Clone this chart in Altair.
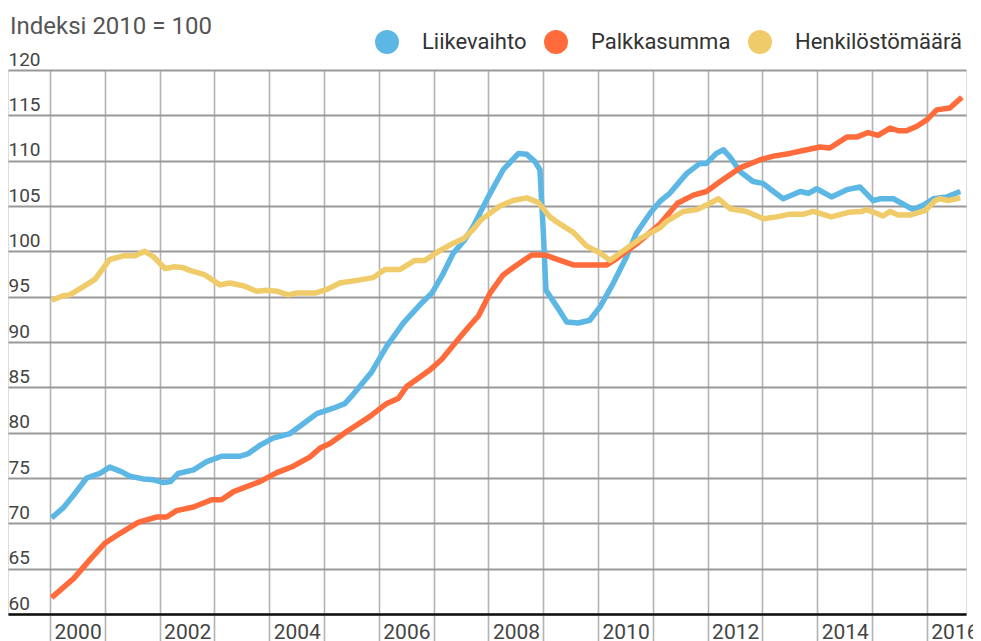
import altair as alt
import pandas as pd

series_names = ["Liikevaihto", "Palkkasumma", "Henkilöstömäärä"]
series_colors = ["#5DB7E5", "#FF6B3B", "#F0CB69"]

liikevaihto_t = [2000.03, 2000.24, 2000.43, 2000.67, 2000.91, 2001.09, 2001.30, 2001.46, 2001.70, 2001.89,
                 2002.07, 2002.20, 2002.34, 2002.62, 2002.86, 2003.13, 2003.47, 2003.62, 2003.83, 2004.07,
                 2004.38, 2004.56, 2004.87, 2005.17, 2005.38, 2005.53, 2005.87, 2006.14, 2006.45, 2006.75,
                 2006.97, 2007.18, 2007.36, 2007.56, 2007.72, 2007.97, 2008.27, 2008.55, 2008.70, 2008.85,
                 2008.94, 2009.00, 2009.05, 2009.25, 2009.43, 2009.64, 2009.85, 2010.04, 2010.28, 2010.52,
                 2010.70, 2010.95, 2011.13, 2011.31, 2011.62, 2011.86, 2011.98, 2012.16, 2012.29, 2012.41,
                 2012.59, 2012.83, 2013.01, 2013.20, 2013.38, 2013.69, 2013.84, 2013.99, 2014.26, 2014.54,
                 2014.78, 2015.02, 2015.15, 2015.39, 2015.57, 2015.75, 2015.94, 2016.12, 2016.36, 2016.61]
liikevaihto_v = [70.6, 71.7, 73.1, 75.0, 75.5, 76.2, 75.7, 75.2, 74.9, 74.8,
                 74.5, 74.6, 75.5, 75.9, 76.8, 77.4, 77.4, 77.7, 78.6, 79.4,
                 79.9, 80.7, 82.1, 82.7, 83.2, 84.2, 86.7, 89.5, 92.1, 94.1,
                 95.4, 97.6, 99.8, 101.2, 102.7, 105.7, 109.0, 110.8, 110.7, 109.9,
                 109.0, 102.4, 95.7, 93.9, 92.2, 92.1, 92.4, 93.9, 96.5, 99.4,
                 102.0, 104.2, 105.5, 106.4, 108.6, 109.7, 109.7, 110.8, 111.2, 110.4,
                 108.8, 107.7, 107.5, 106.6, 105.8, 106.6, 106.4, 106.9, 106.0, 106.8,
                 107.1, 105.6, 105.8, 105.8, 105.2, 104.6, 105.1, 105.8, 106.0, 106.6]

palkkasumma_t = [2000.03, 2000.43, 2000.73, 2001.00, 2001.28, 2001.61, 2001.95, 2002.13, 2002.31, 2002.62,
                 2002.95, 2003.13, 2003.35, 2003.83, 2004.14, 2004.44, 2004.74, 2004.93, 2005.11, 2005.41,
                 2005.84, 2006.14, 2006.36, 2006.51, 2006.93, 2007.15, 2007.45, 2007.63, 2007.82, 2008.03,
                 2008.27, 2008.52, 2008.79, 2009.03, 2009.31, 2009.55, 2010.16, 2010.34, 2010.70, 2011.13,
                 2011.45, 2011.74, 2011.98, 2012.23, 2012.59, 2012.96, 2013.20, 2013.50, 2013.81, 2014.05,
                 2014.23, 2014.54, 2014.72, 2014.93, 2015.11, 2015.33, 2015.48, 2015.63, 2015.82, 2016.00,
                 2016.18, 2016.42, 2016.64]
palkkasumma_v = [61.8, 63.9, 66.0, 67.8, 68.9, 70.1, 70.7, 70.7, 71.4, 71.8,
                 72.6, 72.6, 73.5, 74.6, 75.6, 76.3, 77.3, 78.3, 78.8, 80.1,
                 81.8, 83.2, 83.8, 85.1, 86.9, 88.1, 90.3, 91.6, 92.9, 95.4,
                 97.4, 98.5, 99.6, 99.6, 99.0, 98.5, 98.5, 99.2, 100.8, 103.0,
                 105.3, 106.2, 106.6, 107.7, 109.2, 110.1, 110.5, 110.8, 111.2, 111.5,
                 111.4, 112.6, 112.6, 113.1, 112.8, 113.6, 113.3, 113.3, 113.8, 114.5,
                 115.6, 115.8, 117.0]

henkilosto_t = [2000.03, 2000.24, 2000.36, 2000.61, 2000.82, 2001.09, 2001.34, 2001.55, 2001.73, 2001.89,
                2002.10, 2002.28, 2002.43, 2002.55, 2002.83, 2003.10, 2003.28, 2003.53, 2003.77, 2003.95,
                2004.14, 2004.35, 2004.50, 2004.84, 2005.05, 2005.29, 2005.60, 2005.90, 2006.11, 2006.39,
                2006.66, 2006.84, 2007.12, 2007.36, 2007.55, 2007.72, 2007.87, 2008.21, 2008.45, 2008.70,
                2008.91, 2009.12, 2009.31, 2009.55, 2009.79, 2010.04, 2010.22, 2010.40, 2010.77, 2011.13,
                2011.25, 2011.56, 2011.80, 2011.98, 2012.20, 2012.41, 2012.71, 2013.02, 2013.26, 2013.50,
                2013.75, 2013.93, 2014.26, 2014.57, 2014.81, 2014.90, 2015.08, 2015.20, 2015.33, 2015.48,
                2015.69, 2015.97, 2016.15, 2016.24, 2016.39, 2016.61]
henkilosto_v = [94.6, 95.1, 95.2, 96.1, 96.9, 99.1, 99.5, 99.5, 100.0, 99.4,
                98.1, 98.3, 98.2, 97.9, 97.4, 96.3, 96.5, 96.2, 95.6, 95.7,
                95.6, 95.2, 95.4, 95.4, 95.8, 96.5, 96.8, 97.1, 98.0, 98.0,
                99.0, 99.0, 100.1, 100.9, 101.4, 102.4, 103.5, 105.0, 105.6, 105.9,
                105.4, 103.8, 103.0, 102.1, 100.6, 99.8, 99.0, 99.8, 101.4, 102.6,
                103.3, 104.4, 104.6, 105.1, 105.8, 104.7, 104.4, 103.6, 103.8, 104.1,
                104.1, 104.4, 103.8, 104.3, 104.4, 104.6, 104.2, 103.9, 104.4, 104.0,
                104.0, 104.5, 105.6, 105.8, 105.6, 105.9]

year_ticks = list(range(2000, 2017))
y_ticks = list(range(60, 121, 5))
x_domain = [1999.234, 2016.715]
y_domain = [60, 120]
title_text = "Indeksi 2010 = 100"

rows = []
for i, (name, ts, vs) in enumerate([
    (series_names[0], liikevaihto_t, liikevaihto_v),
    (series_names[1], palkkasumma_t, palkkasumma_v),
    (series_names[2], henkilosto_t, henkilosto_v),
]):
    for t, v in zip(ts, vs):
        rows.append({"series": name, "t": t, "v": v, "k": i})
df = pd.DataFrame(rows)

FONT = "Roboto"

x_enc = alt.X("t:Q",
              scale=alt.Scale(domain=x_domain, nice=False, zero=False),
              axis=alt.Axis(values=year_ticks, format="d",
                            labelExpr="datum.value % 2 == 0 ? datum.label : ''",
                            grid=True, gridColor="#b3b3b3", gridWidth=1.6,
                            ticks=True, tickSize=27, tickColor="#b3b3b3", tickWidth=1.6,
                            domain=True, domainColor="#111111", domainWidth=2.5,
                            labelAlign="left", labelBaseline="top", labelPadding=-20,
                            labelOffset=4, labelFont=FONT, labelFontSize=21, labelColor="#444444",
                            labelOverlap=False, labelFlush=False, title=None))
y_enc = alt.Y("v:Q",
              scale=alt.Scale(domain=y_domain, nice=False, zero=False),
              axis=alt.Axis(values=y_ticks, grid=True, gridColor="#999999", gridWidth=2,
                            ticks=False, tickSize=0, domain=False,
                            labelAlign="left", labelBaseline="alphabetic", labelPadding=0,
                            labelOffset=-5, labelFont=FONT, labelFontSize=19, labelColor="#444444",
                            labelOverlap=False, labelFlush=False, title=None))
color_scale = alt.Scale(domain=series_names, range=series_colors)

base = alt.Chart(df)

legend_pts = base.mark_point(filled=True, size=1).encode(
    x=x_enc,
    y=y_enc,
    color=alt.Color("series:N", scale=color_scale, sort=series_names,
                    legend=alt.Legend(orient="none", legendX=367, legendY=-40,
                                      direction="horizontal", title=None,
                                      symbolType="circle", symbolSize=573,
                                      symbolStrokeWidth=0, symbolOpacity=1,
                                      labelFont=FONT, labelFontSize=22, labelColor="#333333",
                                      labelLimit=400,
                                      labelOffset=23, columnPadding=17, padding=0)),
)

lines = base.mark_line(strokeWidth=5.5, strokeJoin="round").encode(
    x=x_enc,
    y=y_enc,
    color=alt.Color("series:N", scale=color_scale, legend=None),
    order=alt.Order("k:Q"),
    detail="k:N",
)

chart = alt.layer(legend_pts, lines).resolve_legend(color="independent").properties(
    width=958,
    height=544,
    title=alt.TitleParams(title_text, anchor="start", font=FONT, fontSize=24,
                          fontWeight="normal", color="#555555", offset=-9, dx=2, frame="group"),
    autosize=alt.AutoSizeParams(type="none"),
    padding={"left": 0, "top": 62, "right": 7, "bottom": 27},
).configure_view(stroke=None).configure(background="white")

chart.save("out.html", embed_options={"renderer": "svg", "actions": False})
